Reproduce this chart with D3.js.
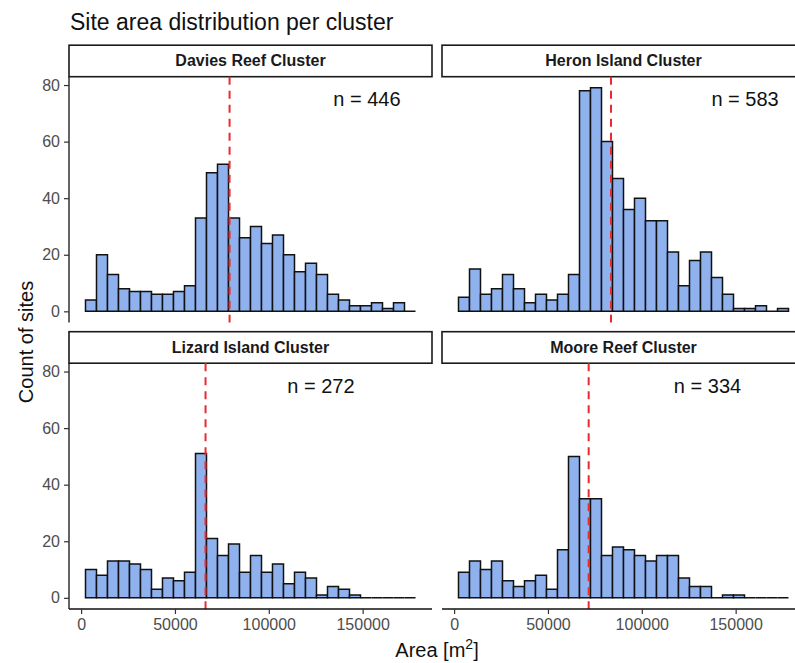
<!DOCTYPE html>
<html>
<head>
<meta charset="utf-8">
<script src="https://cdn.jsdelivr.net/npm/d3@7"></script>
<style>
  html, body { margin: 0; padding: 0; background: #fff; overflow: hidden; }
  svg { display: block; font-family: "Liberation Sans", Arial, sans-serif; }
</style>
</head>
<body>
<svg id="chart" width="795" height="663"></svg>
<script>
// Facet names (reading order: top-left, top-right, bottom-left, bottom-right)
const clusters = ["Davies Reef Cluster", "Heron Island Cluster", "Lizard Island Cluster", "Moore Reef Cluster"];

// Histogram counts per bin (30 bins shared by all facets)
const daviesCounts = [4, 20, 13, 8, 7, 7, 6, 6, 7, 9, 33, 49, 52, 33, 26, 30, 24, 27, 20, 14, 17, 13, 6, 4, 2, 2, 3, 1, 3, 0];
const heronCounts  = [5, 15, 6, 8, 13, 8, 3, 6, 4, 6, 13, 78, 79, 60, 47, 36, 40, 32, 32, 21, 9, 18, 21, 12, 6, 1, 1, 2, 0, 1];
const lizardCounts = [10, 8, 13, 13, 12, 10, 3, 7, 6, 9, 51, 21, 15, 19, 9, 15, 9, 12, 5, 9, 7, 1, 4, 3, 1, 0, 0, 0, 0, 0];
const mooreCounts  = [9, 13, 10, 13, 6, 4, 6, 8, 3, 17, 50, 35, 35, 15, 18, 17, 15, 13, 15, 15, 7, 4, 4, 0, 1, 1, 0, 0, 0, 0];

// Bin layout of the histogram (m²)
const binStart = 2350;
const binWidth = 5860;

// Median site area per cluster (m²) and sample sizes
const medianArea = [79100, 83600, 66300, 71700];
const sampleSizes = [446, 583, 272, 334];
// Where each "n = …" annotation sits, in data units
const labelX = [152300, 155000, 127800, 135000];
const labelY = [75, 75, 75, 75];

// Axis ticks
const xTicks = [0, 50000, 100000, 150000];
const yTicks = [0, 20, 40, 60, 80];

const counts = [daviesCounts, heronCounts, lizardCounts, mooreCounts];

const svg = d3.select("#chart");

// Panel geometry
const panelW = 363;
const colX = [69, 442];
const rowTop = [76.7, 363.2];
const panelH = 245.8;
const stripH = 31.5;

// Shared scales with 5% padding, like a faceted histogram with fixed scales
const nBins = daviesCounts.length;
const binEdges = d3.range(nBins + 1).map(i => binStart + i * binWidth);
const xMin = binEdges[0], xMax = binEdges[nBins];
const xPad = (xMax - xMin) * 0.05;
const yMaxData = d3.max(counts.flat());
const yPad = yMaxData * 0.05;

const fill = "#8fb2ef";
const tickColor = "#4d4d4d";

// Title
svg.append("text")
  .attr("x", 70).attr("y", 30)
  .attr("font-size", 23).attr("fill", "#111")
  .text("Site area distribution per cluster");

clusters.forEach((name, i) => {
  const col = i % 2, row = Math.floor(i / 2);
  const x0 = colX[col], y0 = rowTop[row];

  const x = d3.scaleLinear().domain([xMin - xPad, xMax + xPad]).range([x0, x0 + panelW]);
  const y = d3.scaleLinear().domain([-yPad, yMaxData + yPad]).range([y0 + panelH, y0]);

  const g = svg.append("g");

  // Strip with facet label
  g.append("rect")
    .attr("x", x0).attr("y", y0 - stripH)
    .attr("width", panelW).attr("height", stripH)
    .attr("fill", "#fff").attr("stroke", "#1a1a1a").attr("stroke-width", 1.6);
  g.append("text")
    .attr("x", x0 + panelW / 2).attr("y", y0 - stripH / 2 + 5.5)
    .attr("text-anchor", "middle")
    .attr("font-size", 16).attr("font-weight", "bold").attr("fill", "#1a1a1a")
    .text(name);

  // Histogram bars (paths so that empty bins still show as a flat outline)
  const bins = counts[i].map((c, k) => ({ c, a: binEdges[k], b: binEdges[k + 1] }));
  g.append("g").selectAll("path")
    .data(bins)
    .join("path")
    .attr("d", d => {
      const xa = x(d.a), xb = x(d.b), yb = y(0), yt = y(d.c);
      return `M${xa},${yb}V${yt}H${xb}V${yb}Z`;
    })
    .attr("fill", fill)
    .attr("stroke", "#111")
    .attr("stroke-width", 1.5)
    .attr("stroke-linejoin", "miter");

  // Median line
  g.append("line")
    .attr("x1", x(medianArea[i])).attr("x2", x(medianArea[i]))
    .attr("y1", y0).attr("y2", y0 + panelH)
    .attr("stroke", "#ea2a2f").attr("stroke-width", 2)
    .attr("stroke-dasharray", "8,6");

  // Sample size annotation
  g.append("text")
    .attr("x", x(labelX[i])).attr("y", y(labelY[i]) + 7)
    .attr("text-anchor", "middle")
    .attr("font-size", 20).attr("fill", "#111")
    .text(`n = ${sampleSizes[i]}`);

  // Y axis on the left column
  if (col === 0) {
    const ya = g.append("g")
      .attr("transform", `translate(${x0},0)`)
      .call(d3.axisLeft(y).tickValues(yTicks).tickSize(5).tickPadding(4));
    ya.select(".domain").attr("d", `M0,${y0}V${y0 + panelH}`).attr("stroke", "#111").attr("stroke-width", 1.3);
    ya.selectAll(".tick line").attr("stroke", "#333").attr("stroke-width", 1.2);
    ya.selectAll(".tick text").attr("font-size", 16).attr("fill", tickColor)
      .attr("font-family", "Liberation Sans, Arial, sans-serif");
  }

  // X axis on the bottom row
  if (row === 1) {
    const xa = g.append("g")
      .attr("transform", `translate(0,${y0 + panelH})`)
      .call(d3.axisBottom(x).tickValues(xTicks).tickFormat(d3.format("d")).tickSize(5).tickPadding(5));
    xa.select(".domain").attr("d", `M${x0},0H${x0 + panelW}`).attr("stroke", "#111").attr("stroke-width", 1.3);
    xa.selectAll(".tick line").attr("stroke", "#333").attr("stroke-width", 1.2);
    xa.selectAll(".tick text").attr("font-size", 16).attr("fill", tickColor)
      .attr("font-family", "Liberation Sans, Arial, sans-serif");
  }
});

// Axis titles
const xTitle = svg.append("text")
  .attr("x", 437).attr("y", 657)
  .attr("text-anchor", "middle")
  .attr("font-size", 20).attr("fill", "#111");
xTitle.append("tspan").text("Area [m");
xTitle.append("tspan").attr("font-size", 14).attr("dy", -8).text("2");
xTitle.append("tspan").attr("dy", 8).text("]");

svg.append("text")
  .attr("transform", "translate(33,342) rotate(-90)")
  .attr("text-anchor", "middle")
  .attr("font-size", 20).attr("fill", "#111")
  .text("Count of sites");
</script>
</body>
</html>
